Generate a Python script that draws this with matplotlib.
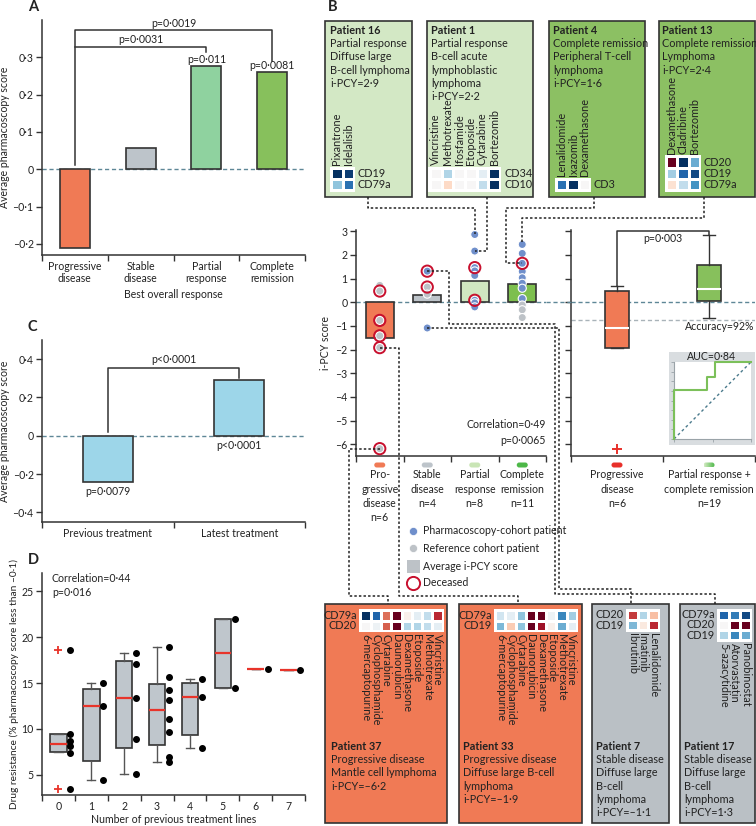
import numpy as np
import matplotlib
matplotlib.use('Agg')
import matplotlib.pyplot as plt
from matplotlib.patches import Rectangle, FancyBboxPatch
from matplotlib.colors import LinearSegmentedColormap

# ---------------- data ----------------
A_categories = ['Progressive\ndisease', 'Stable\ndisease', 'Partial\nresponse', 'Complete\nremission']
A_values = [-0.21, 0.057, 0.276, 0.26]
A_colors = ['#F07A55', '#BDC4CA', '#8FD29F', '#87C05C']
A_yticks = [-0.2, -0.1, 0, 0.1, 0.2, 0.3]
A_bar_p = ['', '', 'p=0·011', 'p=0·0081']
A_bracket_p = ['p=0·0031', 'p=0·0019']

C_categories = ['Previous treatment', 'Latest treatment']
C_values = [-0.243, 0.289]
C_yticks = [-0.4, -0.2, 0, 0.2, 0.4]
C_bar_p = ['p=0·0079', 'p<0·0001']
C_bracket_p = 'p<0·0001'

D_lines = [0, 1, 2, 3, 4, 5, 6, 7]
D_q1 = [7.45, 6.5, 7.95, 8.3, 9.3, 14.5, 16.5, 16.4]
D_med = [8.4, 12.5, 13.4, 12.1, 13.5, 18.3, 16.5, 16.4]
D_q3 = [9.4, 14.4, 17.4, 14.9, 15.0, 22.0, 16.5, 16.4]
D_whislo = [7.45, 4.45, 5.1, 6.4, 7.9, 14.5, 16.5, 16.4]
D_whishi = [9.4, 15.0, 18.3, 18.9, 15.4, 22.0, 16.5, 16.4]
D_fliers = [[18.6, 3.5], [], [], [], [], [], [], []]
D_points = [[18.6, 9.4, 8.7, 8.1, 7.4, 3.5],
            [15.0, 12.5, 4.45],
            [18.3, 17.1, 13.4, 8.9, 5.1],
            [18.9, 15.7, 14.2, 13.15, 11.1, 9.7, 6.9, 6.4],
            [15.4, 13.5, 7.9],
            [22.0, 14.5],
            [16.5],
            [16.4]]
D_yticks = [5, 10, 15, 20, 25]

B_categories = ['Pro-\ngressive\ndisease\nn=6', 'Stable\ndisease\nn=4',
                'Partial\nresponse\nn=8', 'Complete\nremission\nn=11']
B_means = [-1.53, 0.29, 0.91, 0.78]
B_colors = ['#F07A55', '#BDC4CA', '#D0E7C1', '#7DBF4E']
B_pill_colors = ['#F07A55', '#BDC4CA', '#C9E5B5', '#4DB848']
prog_scores = [0.71, 0.47, -0.77, -1.42, -1.92, -6.19]
prog_pcy = [0, 0, 0, 0, 0, 0]
prog_dead = [0, 1, 1, 1, 1, 1]
stable_scores = [1.31, 0.64, 0.34, -1.09]
stable_pcy = [1, 0, 0, 1]
stable_dead = [1, 1, 0, 0]
partial_scores = [2.86, 2.16, 1.46, 1.32, 1.13, 0.08, -0.03, -0.20]
partial_pcy = [1, 1, 1, 1, 1, 1, 1, 1]
partial_dead = [0, 0, 1, 0, 0, 1, 0, 0]
complete_scores = [2.44, 2.06, 1.64, 1.30, 1.03, 0.80, 0.59, 0.15, -0.12, -0.32, -0.65]
complete_pcy = [1, 1, 1, 1, 1, 1, 1, 1, 0, 0, 0]
complete_dead = [0, 0, 1, 0, 0, 0, 0, 0, 0, 0, 0]
B_yticks = [-6, -5, -4, -3, -2, -1, 0, 1, 2, 3]

R_categories = ['Progressive\ndisease\nn=6', 'Partial response +\ncomplete remission\nn=19']
R_q1 = [-1.92, 0.03]
R_med = [-1.11, 0.56]
R_q3 = [0.46, 1.57]
R_whislo = [-1.92, -0.65]
R_whishi = [0.69, 2.83]
R_fliers = [[-6.19], []]
R_colors = ['#F07A55', '#87C05C']
R_threshold = -0.74
roc_fpr = [0, 0, 0.435, 0.435, 0.535, 0.535, 1]
roc_tpr = [0, 0.63, 0.63, 0.81, 0.81, 1, 1]

# patient cards
p16_lines = ['Partial response', 'Diffuse large', 'B-cell lymphoma', 'i-PCY=2·9']
p16_drugs = ['Pixantrone', 'Idelalisib']
p16_markers = ['CD19', 'CD79a']
p16_heat = [[-1.0, -0.95], [-0.4, -0.75]]

p1_lines = ['Partial response', 'B-cell acute', 'lymphoblastic', 'lymphoma', 'i-PCY=2·2']
p1_drugs = ['Vincristine', 'Methotrexate', 'Ifosfamide', 'Etoposide', 'Cytarabine', 'Bortezomib']
p1_markers = ['CD34', 'CD10']
p1_heat = [[0.0, -0.3, 0.0, 0.0, -0.1, -1.0], [0.0, 0.2, 0.0, 0.0, -0.25, -1.0]]

p4_lines = ['Complete remission', 'Peripheral T-cell', 'lymphoma', 'i-PCY=1·6']
p4_drugs = ['Lenalidomide', 'Ixazomib', 'Dexamethasone']
p4_markers = ['CD3']
p4_heat = [[-0.75, -1.0, 0.0]]

p13_lines = ['Complete remission', 'Lymphoma', 'i-PCY=2·4']
p13_drugs = ['Dexamethasone', 'Cladribine', 'Bortezomib']
p13_markers = ['CD20', 'CD19', 'CD79a']
p13_heat = [[1.0, -1.0, -0.5], [-0.35, -0.8, -0.9], [0.15, -0.25, -0.6]]

p37_lines = ['Progressive disease', 'Mantle cell lymphoma', 'i-PCY=–6·2']
p37_drugs = ['6-mercaptopurine', 'Cyclophosphamide', 'Cytarabine', 'Daunorubicin',
             'Dexamethasone', 'Etoposide', 'Methotrexate', 'Vincristine']
p37_markers = ['CD79a', 'CD20']
p37_heat = [[-1.0, -0.8, 0.55, 1.0, 0.05, -0.1, -0.25, 0.75],
            [0.0, -0.05, 0.6, 1.0, -0.3, -0.3, -0.25, -0.1]]

p33_lines = ['Progressive disease', 'Diffuse large B-cell', 'lymphoma', 'i-PCY=–1·9']
p33_drugs = ['6-mercaptopurine', 'Cyclophosphamide', 'Cytarabine', 'Daunorubicin',
             'Dexamethasone', 'Etoposide', 'Methotrexate', 'Vincristine']
p33_markers = ['CD79a', 'CD19']
p33_heat = [[-0.2, -0.1, -0.4, 1.0, 1.0, -0.05, -0.65, -0.35],
            [-0.45, 0.25, -0.4, 1.0, 0.85, 0.05, -0.5, -0.1]]

p7_lines = ['Stable disease', 'Diffuse large', 'B-cell', 'lymphoma', 'i-PCY=–1·1']
p7_drugs = ['Ibrutinib', 'Imatinib', 'Lenalidomide']
p7_markers = ['CD20', 'CD19']
p7_heat = [[0.7, -0.3, 0.3], [-0.45, 0.1, 0.75]]

p17_lines = ['Stable disease', 'Diffuse large', 'B-cell', 'lymphoma', 'i-PCY=1·3']
p17_drugs = ['5-azacytidine', 'Atorvastatin', 'Panobinostat']
p17_markers = ['CD79a', 'CD20', 'CD19']
p17_heat = [[-0.8, -0.7, -0.9], [0.0, 1.0, 1.0], [-0.3, -0.65, -0.5]]

# ---------------- style ----------------
W, H = 756, 826
FS = 7.6
plt.rcParams['font.family'] = ['Lato', 'DejaVu Sans']
plt.rcParams['font.size'] = FS
plt.rcParams['axes.unicode_minus'] = False
EDGE = '#333333'
TXT = '#222222'
ZERO = '#5E8797'
BLUE = '#6F8FCB'
GRAY = '#BDC2C7'
RED = '#C8102E'
plt.rcParams['text.color'] = TXT
plt.rcParams['axes.labelcolor'] = TXT
plt.rcParams['xtick.color'] = EDGE
plt.rcParams['ytick.color'] = EDGE
plt.rcParams['xtick.labelcolor'] = TXT
plt.rcParams['ytick.labelcolor'] = TXT
plt.rcParams['axes.edgecolor'] = EDGE


def fmt(v, nd=1):
    if abs(v) < 1e-9:
        return '0'
    s = f"{abs(v):.{nd}f}".replace('.', '·')
    return ('–' + s) if v < 0 else s


fig = plt.figure(figsize=(W / 100, H / 100), dpi=100)


def pax(x0, y0, x1, y1, z=0):
    ax = fig.add_axes([x0 / W, 1 - y1 / H, (x1 - x0) / W, (y1 - y0) / H])
    ax.set_zorder(z)
    ax.set_facecolor('none')
    return ax


def style(ax):
    for s in ['top', 'right']:
        ax.spines[s].set_visible(False)
    for s in ['left', 'bottom']:
        ax.spines[s].set_linewidth(1.1)
    ax.tick_params(axis='both', which='major', length=4, width=1, pad=2, labelsize=FS)


def to_px(ax, x, y):
    d = ax.transData.transform((x, y))
    return d[0], H - d[1]


def cat_axis(ax, n, labels):
    ax.set_xticks(np.arange(-0.5, n, 1.0))
    ax.set_xticklabels([])
    ax.set_xticks(np.arange(n), minor=True)
    ax.set_xticklabels(labels, minor=True)
    ax.tick_params(axis='x', which='minor', length=0, pad=4, labelsize=FS)


bk = dict(color=EDGE, lw=1.1, clip_on=False)

# ---------------- panel A ----------------
axA = pax(42, 20, 305, 255)
style(axA)
xa = np.arange(len(A_values))
axA.bar(xa, A_values, width=0.46, color=A_colors, edgecolor=EDGE, linewidth=1.2, zorder=3)
axA.axhline(0, color=ZERO, lw=1, ls=(0, (3, 2)), zorder=2)
axA.set_xlim(-0.5, 3.5)
axA.set_ylim(-0.23, 0.40)
axA.set_yticks(A_yticks)
axA.set_yticklabels([fmt(v) for v in A_yticks])
cat_axis(axA, 4, A_categories)
axA.set_xlabel('Best overall response', fontsize=FS, labelpad=3)
axA.set_ylabel('Average pharmacoscopy score', fontsize=FS, labelpad=1.5)
axA.plot([0, 0, 3, 3], [0.01, 0.372, 0.372, 0.29], **bk)
axA.text(1.5, 0.376, A_bracket_p[1], ha='center', va='bottom')
axA.plot([0, 2, 2], [0.328, 0.328, 0.314], **bk)
axA.text(1.0, 0.332, A_bracket_p[0], ha='center', va='bottom')
for i in (2, 3):
    axA.text(i, A_values[i] + 0.004, A_bar_p[i], ha='center', va='bottom')

# ---------------- panel C ----------------
axC = pax(42, 340, 305, 522)
style(axC)
axC.bar([0, 1], C_values, width=0.38, color='#9DD6E9', edgecolor=EDGE, linewidth=1.2, zorder=3)
axC.axhline(0, color=ZERO, lw=1, ls=(0, (3, 2)), zorder=2)
axC.set_xlim(-0.5, 1.5)
axC.set_ylim(-0.45, 0.5)
axC.set_yticks(C_yticks)
axC.set_yticklabels([fmt(v) for v in C_yticks])
cat_axis(axC, 2, C_categories)
axC.set_ylabel('Average pharmacoscopy score', fontsize=FS, labelpad=1.5)
axC.plot([0, 0, 1, 1], [0.02, 0.356, 0.356, 0.30], **bk)
axC.text(0.5, 0.37, C_bracket_p, ha='center', va='bottom')
axC.text(0, C_values[0] - 0.02, C_bar_p[0], ha='center', va='top')
axC.text(1, -0.02, C_bar_p[1], ha='center', va='top')

# ---------------- panel D ----------------
axD = pax(42, 573, 305, 795)
style(axD)
stats = [dict(med=m, q1=a, q3=b, whislo=lo, whishi=hi, fliers=f)
         for m, a, b, lo, hi, f in zip(D_med, D_q1, D_q3, D_whislo, D_whishi, D_fliers)]
axD.bxp(stats, positions=D_lines, widths=0.5, patch_artist=True, capwidths=0.25,
        boxprops=dict(facecolor='#BFC6CC', edgecolor=EDGE, linewidth=1.2),
        whiskerprops=dict(color='#555555', linewidth=1),
        capprops=dict(color='#555555', linewidth=1),
        medianprops=dict(color='#E8342A', linewidth=1.6),
        flierprops=dict(marker='+', markeredgecolor='#E8342A', markersize=6, markeredgewidth=1.3))
for i, pts in zip(D_lines, D_points):
    axD.scatter([i + 0.36] * len(pts), pts, s=16, color='black', zorder=4, clip_on=False)
axD.set_xlim(-0.5, 7.5)
axD.set_ylim(2.8, 27)
axD.set_yticks(D_yticks)
axD.set_yticklabels([str(v) for v in D_yticks])
cat_axis(axD, 8, [str(v) for v in D_lines])
axD.set_xlabel('Number of previous treatment lines', fontsize=FS, labelpad=2)
axD.set_ylabel('Drug resistance (% pharmacoscopy score less than –0·1)', fontsize=7.3, labelpad=2)

# ---------------- panel B left ----------------
axBL = pax(356, 230, 546, 456)
style(axBL)
xb = np.arange(4)
axBL.bar(xb, B_means, width=0.59, color=B_colors, edgecolor=EDGE, linewidth=1.2, zorder=2)
axBL.axhline(0, color=ZERO, lw=1, ls=(0, (3, 2)), zorder=1)
groups = [(prog_scores, prog_pcy, prog_dead), (stable_scores, stable_pcy, stable_dead),
          (partial_scores, partial_pcy, partial_dead), (complete_scores, complete_pcy, complete_dead)]
for i, (sc, pc, dd) in enumerate(groups):
    cols = [BLUE if p else GRAY for p in pc]
    axBL.scatter([i] * len(sc), sc, s=34, c=cols, edgecolors='white', linewidths=0.8, zorder=3, clip_on=False)
    dy = [v for v, d in zip(sc, dd) if d]
    axBL.scatter([i] * len(dy), dy, s=66, facecolors='none', edgecolors=RED, linewidths=1.4, zorder=4, clip_on=False)
axBL.set_xlim(-0.5, 3.5)
axBL.set_ylim(-6.5, 3.05)
axBL.set_yticks(B_yticks)
axBL.set_yticklabels([str(v).replace('-', '–') for v in B_yticks])
axBL.set_xticks(np.arange(-0.5, 4, 1.0))
axBL.set_xticklabels([])
axBL.set_ylabel('i-PCY score', fontsize=FS, labelpad=3)

# ---------------- panel B right ----------------
axBR = pax(571, 230, 755, 456)
style(axBR)
rstats = [dict(med=m, q1=a, q3=b, whislo=lo, whishi=hi, fliers=f)
          for m, a, b, lo, hi, f in zip(R_med, R_q1, R_q3, R_whislo, R_whishi, R_fliers)]
bp = axBR.bxp(rstats, positions=[0, 1], widths=0.26, patch_artist=True, capwidths=0.13,
              boxprops=dict(edgecolor=EDGE, linewidth=1.2),
              whiskerprops=dict(color=EDGE, linewidth=1),
              capprops=dict(color=EDGE, linewidth=1),
              medianprops=dict(color='white', linewidth=1.5),
              flierprops=dict(marker='+', markeredgecolor='#E8302A', markersize=7, markeredgewidth=1.4))
for patch, c in zip(bp['boxes'], R_colors):
    patch.set_facecolor(c)
axBR.axhline(0, color=ZERO, lw=1, ls=(0, (3, 2)), zorder=0)
axBR.axhline(R_threshold, color='#A9B3B9', lw=1, ls=(0, (3, 2)), zorder=0)
axBR.set_xlim(-0.5, 1.5)
axBR.set_ylim(-6.5, 3.05)
axBR.set_yticks(B_yticks)
axBR.set_yticklabels([])
axBR.set_xticks([-0.5, 0.5, 1.5])
axBR.set_xticklabels([])
axBR.plot([0, 0, 1, 1], [R_whishi[0], 3.0, 3.0, R_whishi[1]], **bk)
axBR.text(0.5, 2.93, 'p=0·003', ha='center', va='top')

# inset ROC
axBG = pax(669, 352, 755, 445, z=1)
axBG.set_facecolor('#D9DDE0')
axBG.set_xticks([]); axBG.set_yticks([])
for s in axBG.spines.values():
    s.set_visible(False)
axBG.text(0.5, (445 - 356.5) / 93, 'AUC=0·84', transform=axBG.transAxes, ha='center', va='center', fontsize=FS)
axI = pax(674, 362, 751, 439, z=2)
axI.set_facecolor('white')
axI.plot(roc_fpr, roc_tpr, color='#7CC05A', lw=1.5, clip_on=False, zorder=3)
axI.plot([0, 1], [0, 1], color='#4A7A8C', lw=1, ls=(0, (2, 2)))
axI.set_xlim(0, 1); axI.set_ylim(0, 1)
for s in ['top', 'right']:
    axI.spines[s].set_visible(False)
for s in ['left', 'bottom']:
    axI.spines[s].set_color('#9AA3A8'); axI.spines[s].set_linewidth(0.8)
axI.set_xticks([0, 0.5, 1]); axI.set_yticks(np.linspace(0, 1, 9))
axI.tick_params(length=2, width=0.6, color='#9AA3A8', labelbottom=False, labelleft=False)

# ---------------- overlay ----------------
ov = fig.add_axes([0, 0, 1, 1])
ov.set_zorder(5)
ov.axis('off')

# category pills + labels under B axes
for i, (lab, c) in enumerate(zip(B_categories, B_pill_colors)):
    px, _ = to_px(axBL, i, 0)
    ov.add_patch(FancyBboxPatch((px - 5.5, 462.5), 11, 5, boxstyle='round,pad=0,rounding_size=2.5',
                                facecolor=c, edgecolor='none'))
    ov.text(px, 469.5, lab, ha='center', va='top', fontsize=FS, linespacing=1.35)
for i, lab in enumerate(R_categories):
    px, _ = to_px(axBR, i, 0)
    if i == 0:
        ov.add_patch(FancyBboxPatch((px - 5.5, 462.5), 11, 5, boxstyle='round,pad=0,rounding_size=2.5',
                                    facecolor='#E8302A', edgecolor='none'))
    else:
        pill = FancyBboxPatch((px - 5.5, 462.5), 11, 5, boxstyle='round,pad=0,rounding_size=2.5',
                              facecolor='none', edgecolor='none')
        ov.add_patch(pill)
        grad = LinearSegmentedColormap.from_list('g', ['#D3EAC2', '#4DB848'])
        im = ov.imshow(np.linspace(0, 1, 50)[None, :], cmap=grad, extent=[px - 5.5, px + 5.5, 467.5, 462.5],
                       aspect='auto', zorder=2)
        im.set_clip_path(pill)
    ov.text(px, 469.5, lab, ha='center', va='top', fontsize=FS, linespacing=1.35)

# zero line bridge between B axes
x1p, y0p = to_px(axBL, 3.5, 0)
x2p, _ = to_px(axBR, -0.5, 0)
ov.plot([x1p, x2p], [y0p, y0p], color=ZERO, lw=1, ls=(0, (3, 2)))

ov.text(546, 425, 'Correlation=0·49', ha='right', va='center')
ov.text(546, 440, 'p=0·0065', ha='right', va='center')
ov.text(754, 326, 'Accuracy=92%', ha='right', va='center')
ov.text(52, 578, 'Correlation=0·44', ha='left', va='center')
ov.text(52, 592, 'p=0·016', ha='left', va='center')

# legend
ov.scatter([413], [531], s=34, color=BLUE, edgecolors='white', linewidths=0.5)
ov.scatter([413], [548], s=34, color=GRAY, edgecolors='white', linewidths=0.5)
ov.add_patch(Rectangle((406.5, 559.5), 13, 13, facecolor=GRAY, edgecolor='none'))
ov.scatter([413], [583], s=90, facecolors='white', edgecolors=RED, linewidths=1.4)
for y, t in zip([531, 548, 566, 583], ['Pharmacoscopy-cohort patient', 'Reference cohort patient',
                                       'Average i-PCY score', 'Deceased']):
    ov.text(423, y, t, ha='left', va='center', fontsize=FS)

# panel letters
for lab, (x, y) in zip('ABCD', [(28, 7), (328, 7), (28, 327), (28, 560)]):
    ov.text(x, y, lab, fontsize=10.5, fontweight='bold', ha='left', va='center')

BOX_FS = 7.8


def card(box, face, title, lines, title_xy, step=13.4):
    x0, y0, x1, y1 = box
    ov.add_patch(Rectangle((x0, y0), x1 - x0, y1 - y0, facecolor=face, edgecolor=EDGE, lw=1.2, zorder=1))
    tx, ty = title_xy
    ov.text(tx, ty, title, fontweight='bold', ha='left', va='center', fontsize=BOX_FS)
    for k, ln in enumerate(lines):
        ov.text(tx, ty + (k + 1) * step, ln, ha='left', va='center', fontsize=BOX_FS)


def heat(frame, vals, drugs, markers, top):
    x0, y0, x1, y1 = frame
    ax = pax(x0, y0, x1, y1, z=6)
    ax.set_facecolor('white')
    arr = np.array(vals)
    nr, nc = arr.shape
    ax.pcolormesh(arr, cmap='RdBu_r', vmin=-1, vmax=1, edgecolors='white', linewidth=1.0)
    pad = 0.13
    ax.set_xlim(-pad, nc + pad)
    ax.set_ylim(nr + pad, -pad)
    ax.set_xticks([]); ax.set_yticks([])
    for s in ax.spines.values():
        s.set_visible(False)
    pw = (x1 - x0) / (nc + 2 * pad)
    ph = (y1 - y0) / (nr + 2 * pad)
    for j, d in enumerate(drugs):
        cx = x0 + (pad + j + 0.5) * pw
        if top:
            ov.text(cx, y0 - 1.5, d, rotation=90, ha='center', va='bottom', fontsize=BOX_FS)
        else:
            ov.text(cx, y1 + 1.5, d, rotation=270, ha='center', va='top', fontsize=BOX_FS)
    for i, m in enumerate(markers):
        cy = y0 + (pad + i + 0.5) * ph
        if top:
            ov.text(x1 + 3, cy, m, ha='left', va='center', fontsize=BOX_FS)
        else:
            ov.text(x0 - 2, cy, m, ha='right', va='center', fontsize=BOX_FS)


LG = '#D3E8C5'
DG = '#8CC063'
OR = '#F07A55'
SG = '#BAC0C5'
card((325, 21, 412, 197), LG, 'Patient 16', p16_lines, (330, 30))
heat((330, 166.5, 355, 191.5), p16_heat, p16_drugs, p16_markers, True)
card((427, 21, 533, 197), LG, 'Patient 1', p1_lines, (431, 30))
heat((428.5, 166.5, 501.5, 191.5), p1_heat, p1_drugs, p1_markers, True)
card((549, 21, 645, 197), DG, 'Patient 4', p4_lines, (553, 30))
heat((555, 178, 591, 191.5), p4_heat, p4_drugs, p4_markers, True)
card((659, 21, 755, 197), DG, 'Patient 13', p13_lines, (662, 30))
heat((665, 155, 701, 191.5), p13_heat, p13_drugs, p13_markers, True)

card((325, 604, 447, 823), OR, 'Patient 37', p37_lines, (331, 746))
heat((359, 609, 444, 632), p37_heat, p37_drugs, p37_markers, False)
card((459, 604, 582, 823), OR, 'Patient 33', p33_lines, (463, 746))
heat((494, 609, 578, 632), p33_heat, p33_drugs, p33_markers, False)
card((592, 604, 669, 823), SG, 'Patient 7', p7_lines, (596, 746))
heat((626, 608.5, 660, 631.5), p7_heat, p7_drugs, p7_markers, False)
card((680, 604, 755, 823), SG, 'Patient 17', p17_lines, (684, 746))
heat((717, 608.5, 752, 641.5), p17_heat, p17_drugs, p17_markers, False)

# connectors
cn = dict(color='#222222', lw=1.1, ls=(0, (1.6, 1.4)), zorder=5, solid_capstyle='butt')
px, py = to_px(axBL, 2, partial_scores[0])
ov.plot([368, 368, px, px], [197, 208, 208, py], **cn)
px, py = to_px(axBL, 2, partial_scores[1])
ov.plot([487, 487, px], [197, py, py], **cn)
px, py = to_px(axBL, 3, complete_scores[2])
ov.plot([594, 594, 506, 506, px], [197, 208, 208, py, py], **cn)
px, py = to_px(axBL, 3, complete_scores[0])
ov.plot([704, 704, px, px], [197, 218, 218, py], **cn)
px, py = to_px(axBL, 0, prog_scores[5])
ov.plot([px, 349, 349, 388, 388], [py, py, 596, 596, 604], **cn)
px, py = to_px(axBL, 0, prog_scores[4])
ov.plot([px, 399, 399, 518, 518], [py, py, 596, 596, 604], **cn)
px, py = to_px(axBL, 1, stable_scores[3])
ov.plot([px, 559, 559, 631, 631], [py, py, 589, 589, 604], **cn)
px, py = to_px(axBL, 1, stable_scores[0])
ov.plot([px, 449, 449, 555, 555, 715, 715], [py, py, 324, 324, 594, 594, 604], **cn)

ov.set_xlim(0, W)
ov.set_ylim(H, 0)

fig.savefig('out.png', dpi=100)
